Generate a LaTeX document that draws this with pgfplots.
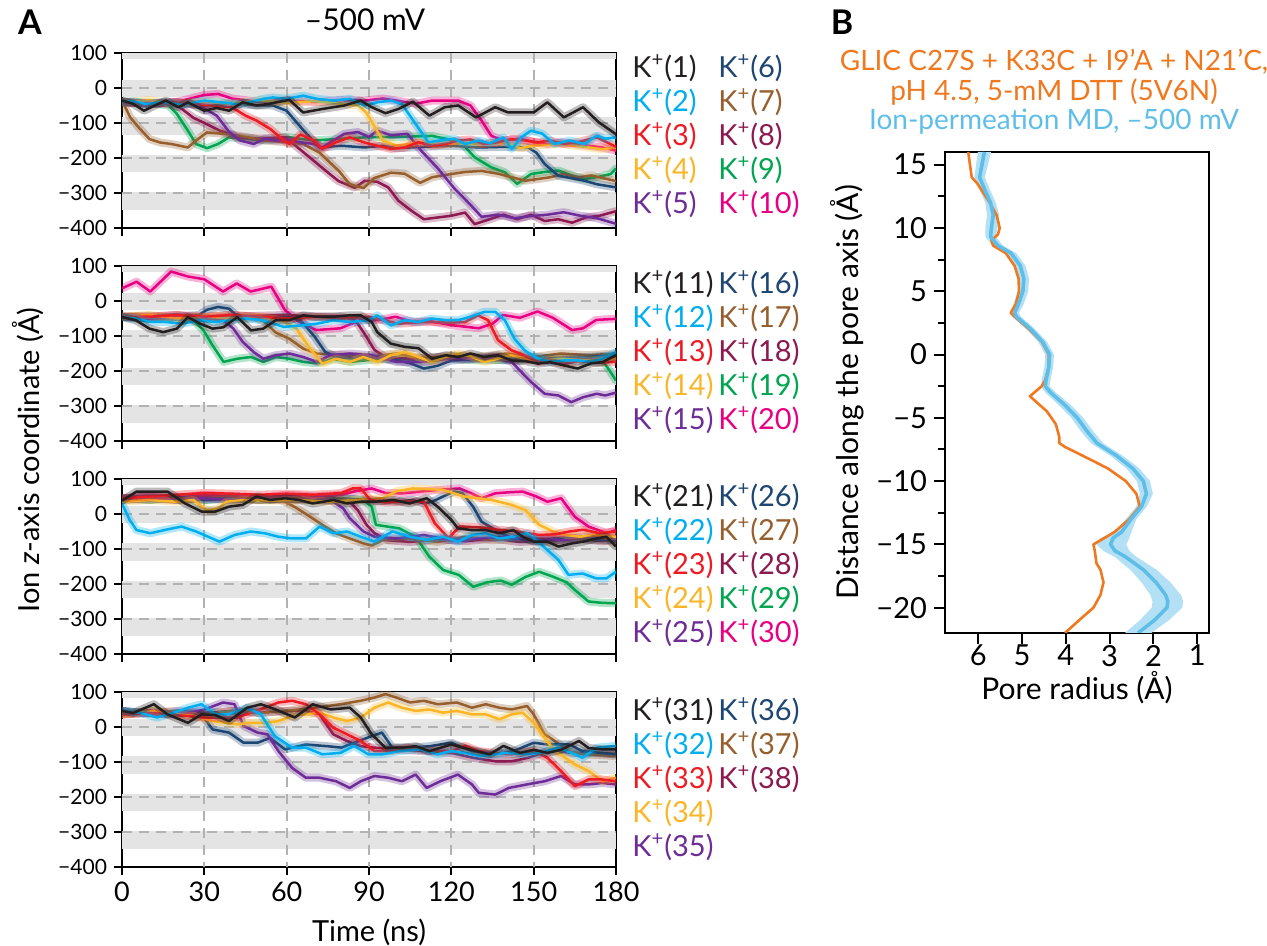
\documentclass[border=0pt]{standalone}
\usepackage{pgfplots}
\pgfplotsset{compat=1.18}
\usepackage{fontspec}
\setmainfont{Lato}
\definecolor{c1}{RGB}{35,31,32}
\definecolor{c2}{RGB}{0,174,239}
\definecolor{c3}{RGB}{237,28,36}
\definecolor{c4}{RGB}{250,182,40}
\definecolor{c5}{RGB}{110,45,150}
\definecolor{c6}{RGB}{30,70,115}
\definecolor{c7}{RGB}{150,95,45}
\definecolor{c8}{RGB}{140,25,80}
\definecolor{c9}{RGB}{0,165,80}
\definecolor{c10}{RGB}{232,0,130}
\definecolor{bandgray}{RGB}{228,228,228}
\definecolor{gridgray}{RGB}{178,178,178}
\definecolor{poreorange}{RGB}{240,120,30}
\definecolor{poreblue}{RGB}{95,190,232}
\definecolor{bandblue}{RGB}{180,224,246}

\newcommand{\traj}[2]{%
  \addplot[#1, line width=4pt, opacity=0.3, line join=round, line cap=round] coordinates {#2};
  \addplot[#1, line width=1.25pt, line join=round] coordinates {#2};
}
\newcommand{\bands}{%
  \fill[bandgray] (axis cs:0,84) rectangle (axis cs:180,100);
  \fill[bandgray] (axis cs:0,-26) rectangle (axis cs:180,24);
  \fill[bandgray] (axis cs:0,-134) rectangle (axis cs:180,-83);
  \fill[bandgray] (axis cs:0,-241) rectangle (axis cs:180,-191);
  \fill[bandgray] (axis cs:0,-349) rectangle (axis cs:180,-298);
  \draw[gridgray, line width=1pt, dash pattern=on 5pt off 3.5pt] (axis cs:0,0) -- (axis cs:180,0);
  \draw[gridgray, line width=1pt, dash pattern=on 5pt off 3.5pt] (axis cs:0,-100) -- (axis cs:180,-100);
  \draw[gridgray, line width=1pt, dash pattern=on 5pt off 3.5pt] (axis cs:0,-200) -- (axis cs:180,-200);
  \draw[gridgray, line width=1pt, dash pattern=on 5pt off 3.5pt] (axis cs:0,-300) -- (axis cs:180,-300);
  \draw[gridgray, line width=1pt, dash pattern=on 5pt off 3.5pt] (axis cs:30,100) -- (axis cs:30,-400);
  \draw[gridgray, line width=1pt, dash pattern=on 5pt off 3.5pt] (axis cs:60,100) -- (axis cs:60,-400);
  \draw[gridgray, line width=1pt, dash pattern=on 5pt off 3.5pt] (axis cs:90,100) -- (axis cs:90,-400);
  \draw[gridgray, line width=1pt, dash pattern=on 5pt off 3.5pt] (axis cs:120,100) -- (axis cs:120,-400);
  \draw[gridgray, line width=1pt, dash pattern=on 5pt off 3.5pt] (axis cs:150,100) -- (axis cs:150,-400);
}
\pgfplotsset{
  trajax/.style={
    scale only axis, width=247pt, height=87.5pt, anchor=south west,
    xmin=0, xmax=180, ymin=-400, ymax=100,
    xtick={0,30,...,180}, ytick={-400,-300,...,100},
    yticklabels={−400,−300,−200,−100,0,100},
    xticklabels={},
    tick pos=left, tick align=outside, major tick length=4pt,
    every tick/.style={black, line width=1pt},
    axis line style={line width=1.1pt},
    y tick label style={font=\fontsize{10.5}{12}\selectfont},
    x tick label style={font=\fontsize{13.5}{15}\selectfont},
  },
}
\newcommand{\leg}[4]{\node[anchor=west, inner sep=0pt, text=#3, font=\fontsize{14.5}{16}\selectfont] at (#1pt,#2pt) {K\textsuperscript{+}(#4)};}

\begin{document}
\begin{tikzpicture}
\path[use as bounding box] (0,0) rectangle (633.5pt,473pt);

% ---------------- Panel 1 ----------------
\begin{axis}[trajax, at={(61pt,359pt)}]
\bands
\traj{c10}{(0,-40) (10,-45) (20,-40) (25,-30) (30,-20) (35,-17) (40,-30) (50,-40) (60,-35) (70,-40) (80,-35) (88.5,-36) (95,-30) (100,-36) (107,-45) (113,-36) (122.5,-36) (127,-50) (131,-93) (134.6,-137) (139,-150) (145,-145) (150,-155) (155,-160) (160,-155) (165,-160) (170,-165) (175,-170) (180,-179)}
\traj{c9}{(0,-40) (10,-42) (17,-50) (20,-74) (24,-122) (27,-160) (31,-172) (35,-160) (39,-141) (45,-145) (52,-150) (60,-140) (70,-150) (80,-145) (88.5,-141) (100,-140) (113,-137) (118,-145) (124,-160) (128.5,-198) (134.6,-227) (139.5,-241) (144,-274) (149,-246) (154,-240) (159,-236) (164,-250) (168.5,-260) (173,-255) (178,-246) (180,-230)}
\traj{c8}{(0,-40) (10,-45) (16,-45) (21,-55) (26,-85) (30,-100) (35.7,-122) (42,-140) (50,-145) (59.5,-141) (64,-170) (68.5,-199) (74,-235) (78.9,-266) (84.8,-285) (88.5,-265) (93,-268) (97,-284) (100.7,-322) (105.5,-351) (110,-375) (115,-370) (120,-365) (125,-356) (128.5,-389) (134,-375) (139,-362) (144,-375) (149,-362) (154,-380) (159,-375) (164,-385) (169,-370) (174,-365) (180,-352)}
\traj{c7}{(0,-36) (3,-84) (6,-112) (10,-146) (14,-156) (18,-160) (24,-170) (27,-150) (31,-127) (38.7,-132) (45,-140) (52,-150) (60,-155) (66,-160) (72,-185) (79,-237) (83,-275) (88,-286) (92,-257) (98,-242) (103,-245) (108.6,-271) (113,-255) (119,-247) (125,-240) (131,-237) (137,-245) (142,-255) (147,-265) (151.6,-260) (156,-255) (161,-246) (166,-255) (171,-250) (180,-266)}
\traj{c6}{(0,-40) (10,-45) (20,-42) (30,-50) (40,-45) (50,-50) (55,-50) (60,-65) (66,-120) (72,-170) (80,-165) (88.5,-170) (95,-165) (100,-172) (110,-168) (120,-165) (130,-170) (140,-168) (148,-170) (151,-185) (154,-217) (159,-251) (164,-258) (168.5,-265) (173,-275) (180,-284)}
\traj{c5}{(0,-40) (10,-45) (20,-40) (28,-50) (34.5,-79) (39,-125) (43,-150) (48,-160) (52,-145) (56,-150) (60,-148) (65,-155) (70,-160) (73,-170) (77,-150) (81,-131) (86,-126) (90,-140) (93,-122) (98,-135) (104,-131) (109,-179) (115,-229) (121,-286) (127,-334) (131,-368) (137,-362) (143,-372) (149,-366) (155,-362) (161,-355) (167,-365) (173,-372) (180,-388)}
\traj{c4}{(0,-40) (10,-35) (20,-45) (30,-38) (40,-45) (50,-35) (60,-42) (70,-38) (80,-45) (86,-50) (89,-70) (92,-110) (95,-150) (100,-165) (105,-160) (110,-155) (115,-162) (120,-158) (130,-160) (140,-155) (145,-172) (150,-165) (160,-160) (170,-170) (175,-175) (180,-170)}
\traj{c3}{(0,-40) (10,-45) (20,-40) (30,-48) (40,-55) (45,-79) (49,-93) (54,-117) (59,-150) (61,-160) (65,-133) (70,-150) (73,-174) (78,-155) (83,-141) (88,-155) (93,-165) (98,-174) (103,-170) (108,-155) (113,-165) (118,-160) (122.5,-150) (127,-147) (132,-160) (137,-155) (142,-146) (147,-150) (151.6,-155) (156,-150) (161,-160) (166,-155) (173,-141) (180,-168)}
\traj{c2}{(0,-40) (4,-38) (9,-46) (15,-40) (22,-48) (30,-36) (36,-41) (42,-46) (47,-40) (51.5,-31) (55,-27) (60,-31) (66,-22) (71,-31) (77,-36) (83,-31) (88.5,-50) (93,-41) (98,-36) (102,-46) (107,-103) (111.6,-155) (116,-150) (121,-145) (125,-160) (130,-150) (134,-158) (139,-141) (142,-174) (145.5,-141) (149,-122) (153,-130) (157.6,-160) (163,-150) (168.5,-160) (173,-136) (176,-145) (180,-141)}
\traj{c1}{(0,-36) (4,-45) (8,-65) (12,-50) (16,-36) (20.6,-55) (24,-41) (30,-65) (34.5,-57) (39,-65) (44,-41) (49,-50) (53,-46) (61,-34) (66,-70) (73,-60) (81,-50) (87,-36) (91,-55) (96,-72) (100.7,-60) (106,-39) (112,-79) (117.6,-55) (122.5,-50) (129,-84) (136,-55) (140.7,-70) (150,-70) (155,-41) (161,-84) (168,-55) (173.7,-98) (180,-132)}
\end{axis}

% ---------------- Panel 2 ----------------
\begin{axis}[trajax, at={(61pt,252.5pt)}]
\bands
\traj{c10}{(0,36) (5.3,55) (10.3,27) (17.9,84) (24,70) (30,62) (36.8,27) (41.8,50) (46.9,27) (54.4,41) (59.4,-26) (64.5,-59) (70.8,-83) (79.6,-78) (87,-54) (93,-55) (99.7,-45) (106,-60) (112,-57) (120,-69) (130,-78) (135,-65) (138.8,-40) (145,-48) (151.4,-30) (157,-48) (164,-83) (168,-78) (172.8,-54) (180,-51)}
\traj{c9}{(0,-45) (10,-50) (20,-45) (26,-55) (29.7,-84) (33,-127) (37,-174) (42,-165) (47,-160) (51.5,-174) (56,-160) (61,-165) (66,-174) (71,-178) (77,-165) (83,-174) (91,-168) (100,-165) (110,-170) (120,-165) (130,-170) (140,-168) (150,-165) (160,-170) (170,-165) (176,-180) (178,-203) (180,-227)}
\traj{c8}{(0,-45) (10,-45) (20,-40) (30,-50) (40,-45) (50,-42) (60,-40) (70,-45) (80,-45) (85,-55) (88,-89) (92,-140) (96,-160) (105,-165) (115,-160) (125,-165) (135,-160) (145,-170) (155,-165) (165,-160) (175,-165) (180,-160)}
\traj{c7}{(0,-45) (10,-42) (20,-50) (30,-45) (40,-40) (48,-45) (52,-60) (56,-90) (61,-108) (66,-136) (71,-150) (80,-155) (90,-160) (100,-150) (110,-165) (120,-155) (130,-160) (140,-150) (150,-160) (160,-150) (170,-155) (180,-150)}
\traj{c6}{(0,-45) (10,-50) (20,-45) (28,-40) (31,-25) (35,-17) (39,-22) (43,-50) (50,-50) (60,-45) (65,-55) (70,-100) (74,-145) (78,-160) (85,-165) (90,-160) (100,-170) (105,-178) (110,-193) (115,-185) (120,-170) (130,-165) (140,-170) (150,-160) (160,-165) (170,-160) (180,-155)}
\traj{c5}{(0,-45) (10,-50) (20,-45) (30,-50) (37,-55) (40.6,-79) (44,-117) (48,-146) (51.5,-165) (56,-155) (61,-150) (66,-160) (71,-174) (76,-155) (83,-150) (91,-155) (100,-174) (110,-174) (120,-165) (130,-165) (137,-160) (142,-174) (145.5,-203) (149,-231) (154,-265) (159,-270) (163.7,-289) (168,-275) (173,-265) (176,-270) (180,-262)}
\traj{c4}{(0,-45) (10,-40) (20,-50) (30,-45) (40,-50) (50,-45) (58,-55) (63.6,-79) (68.5,-136) (73,-179) (78,-165) (83,-174) (88,-160) (93,-174) (98,-155) (103,-146) (108,-160) (113,-174) (118,-160) (122.5,-150) (127,-158) (132,-174) (137,-165) (142,-155) (147,-165) (152,-170) (160,-165) (170,-170) (180,-165)}
\traj{c3}{(0,-45) (10,-45) (20,-40) (30,-45) (40,-40) (50,-45) (60,-50) (70,-45) (80,-50) (90,-45) (100.7,-65) (110,-60) (120,-62) (125,-60) (129.7,-41) (133.4,-55) (137,-112) (142,-141) (146.7,-155) (151.6,-174) (156,-172) (161,-180) (166,-172) (173,-176) (180,-174)}
\traj{c2}{(0,-46) (5,-50) (10,-60) (16,-60) (22,-65) (28,-55) (34,-60) (40,-55) (45,-50) (51,-55) (59,-74) (65,-70) (71,-65) (77,-55) (83,-60) (90,-55) (93,-41) (98,-70) (103,-55) (108,-60) (113,-50) (118,-55) (122.5,-55) (127,-45) (132,-31) (136,-31) (139.5,-55) (143,-108) (146.7,-141) (151.6,-165) (156,-174) (161,-170) (166,-170) (171,-174) (175,-165) (180,-146)}
\traj{c1}{(0,-46) (5,-55) (10,-79) (15,-89) (20,-79) (24,-46) (28.5,-65) (33,-79) (37,-75) (42,-46) (47,-84) (51.5,-79) (56,-55) (61,-55) (66,-41) (71,-45) (77,-45) (83,-41) (87,-41) (91,-60) (93,-89) (98,-122) (103,-131) (108,-135) (113,-165) (118,-155) (122.5,-160) (127,-150) (132,-160) (137,-155) (142,-170) (147,-172) (151.6,-179) (156,-175) (161,-184) (166,-193) (171,-178) (175,-175) (180,-155)}
\end{axis}

% ---------------- Panel 3 ----------------
\begin{axis}[trajax, at={(61pt,146pt)}]
\bands
\traj{c10}{(0,45) (10,50) (20,45) (30,55) (40,50) (50,45) (60,55) (70,50) (80,55) (85,65) (91,73) (96,60) (102,59) (110,65) (117,70) (123,73) (127,60) (131,45) (136,59) (141,62) (146,64) (151,50) (155,35) (160,45) (165,-8) (170,-36) (176.7,-55) (180,-46)}
\traj{c9}{(0,45) (10,40) (20,45) (30,40) (40,45) (50,40) (60,45) (70,40) (80,45) (88,40) (91,21) (92.5,-31) (101,-41) (107,-65) (112,-122) (117,-160) (122.7,-174) (128,-208) (133,-195) (138,-190) (142,-202) (147,-180) (152,-165) (157,-179) (162,-195) (165,-217) (170,-250) (175,-254) (180,-255)}
\traj{c8}{(0,40) (10,45) (20,40) (30,50) (40,45) (50,40) (60,45) (70,40) (78,38) (83,35) (86,10) (89,-30) (92,-55) (97,-75) (105,-80) (115,-72) (125,-78) (135,-70) (145,-80) (155,-75) (165,-70) (175,-78) (180,-72)}
\traj{c7}{(0,40) (10,45) (20,40) (30,45) (40,50) (50,45) (58,40) (63,20) (68,-5) (73,-31) (78,-55) (83,-70) (88,-84) (91,-90) (95,-75) (105,-70) (115,-80) (125,-65) (135,-75) (145,-70) (155,-80) (165,-70) (175,-75) (180,-80)}
\traj{c6}{(0,45) (10,40) (20,50) (30,40) (40,45) (50,40) (60,45) (70,40) (80,45) (90,40) (100,35) (106,40) (110,30) (113,35) (117,50) (121,64) (124,60) (128,20) (131,-22) (136,-45) (142,-70) (150,-75) (160,-68) (170,-72) (180,-75)}
\traj{c5}{(0,45) (10,50) (20,40) (30,45) (40,40) (50,45) (60,40) (70,45) (76,40) (80.6,16) (83,-12) (88,-50) (92,-65) (100,-70) (110,-60) (120,-75) (130,-70) (140,-65) (150,-70) (160,-75) (170,-65) (180,-70)}
\traj{c4}{(0,35) (10,40) (20,35) (26,40) (31,10) (35,15) (38,35) (45,40) (55,38) (65,40) (75,35) (85,40) (95,45) (100,65) (106,73) (117,69) (124.7,50) (134.7,40) (142,26) (147,11) (152,-31) (157,-50) (162,-60) (167,-65) (172,-60) (176,-62) (180,-65)}
\traj{c3}{(0,45) (10,50) (20,55) (30,60) (40,58) (50,55) (60,58) (70,55) (80,60) (84,73) (87,73) (90.5,40) (96,33) (103,35) (110,35) (114,-27) (119,-69) (123,-36) (130,-38) (137,-45) (144,-50) (152,-60) (158,-58) (163,-50) (168,-45) (174,-55) (180,-50)}
\traj{c2}{(0,30) (2.8,-17) (5.3,-46) (10.3,-55) (16,-45) (21.7,-36) (27,-50) (35.5,-79) (41,-60) (46.9,-50) (52,-55) (57,-65) (62,-70) (67,-70) (72,-36) (77,-55) (82,-50) (87,-65) (92,-79) (98.5,-50) (105,-65) (111,-74) (117,-65) (122.4,-79) (127.5,-60) (132.5,-55) (137.5,-70) (142.6,-65) (147.6,-55) (151,-75) (155,-103) (159,-131) (162.7,-174) (167.8,-170) (172.8,-184) (176.5,-184) (180,-165)}
\traj{c1}{(0,38) (5.3,64) (10.3,64) (16.6,64) (23,30) (29,7) (34,7) (39,21) (44,26) (49,50) (54,40) (59.4,45) (64.5,40) (69.5,30) (77,40) (82,30) (87,35) (92,35) (99,40) (104.8,30) (111,45) (115,21) (120,-17) (122.4,-41) (127.5,-46) (132.5,-46) (137.5,-55) (142.6,-46) (146,-65) (150,-79) (155,-79) (159,-93) (164,-84) (168,-79) (172.8,-70) (176.5,-65) (180,-93)}
\end{axis}

% ---------------- Panel 4 ----------------
\begin{axis}[trajax, at={(61pt,39.5pt)}, xticklabels={0,30,60,90,120,150,180}]
\bands
\traj{c8}{(0,36) (10,40) (20,46) (30,40) (40,46) (50,41) (60,46) (67,46) (72,36) (77,-21) (82,-40) (87,-55) (92,-59) (100,-64) (110,-69) (120,-74) (128,-88) (136,-98) (142,-98) (148,-88) (155,-69) (165,-74) (172,-74) (180,-78)}
\traj{c7}{(0,36) (10,46) (20,40) (30,36) (40,46) (50,40) (60,46) (70,55) (79.6,65) (87,75) (92,84) (96,94) (100,84) (105,70) (110,75) (115,65) (122,70) (127.5,55) (132.5,65) (137.5,55) (142,50) (147.6,60) (150,36) (154,-21) (157.7,-40) (162.7,-69) (168,-78) (174,-80) (180,-83)}
\traj{c6}{(0,46) (8,40) (16,36) (24,41) (29,36) (33,-7) (39,-16) (44.3,-45) (49.4,-45) (54,-31) (59.4,-64) (67,-50) (75,-55) (80,-59) (84.6,-45) (91,-26) (94.7,-16) (98.5,-59) (105,-59) (112,-55) (120,-45) (127.5,-69) (135,-78) (142.6,-69) (150,-45) (155,-50) (163,-50) (167.8,-69) (180,-78)}
\traj{c5}{(0,46) (8,40) (16,36) (24,40) (30,50) (36.8,70) (41,65) (44.3,3) (49.4,-16) (53,-21) (57,-69) (62,-117) (67,-145) (72,-145) (78,-155) (83,-174) (87,-155) (92,-140) (97,-145) (102,-155) (107,-136) (111,-174) (116,-155) (122.4,-136) (127.5,-164) (130,-188) (136,-193) (141,-174) (147.6,-164) (154,-155) (160,-140) (165,-164) (170,-164) (175,-160) (180,-164)}
\traj{c4}{(0,36) (11.6,46) (20,36) (26.7,31) (33,17) (42,8) (47,12) (52,12) (57,17) (62,31) (67,36) (72,41) (77,27) (82,17) (87,27) (92,55) (97,70) (102,55) (107,46) (112,50) (117,41) (122,46) (127.5,36) (132.5,36) (137.5,22) (142,36) (146,41) (150,12) (154,-31) (157.7,-69) (161.5,-88) (165,-107) (170,-126) (175,-155) (180,-145)}
\traj{c3}{(0,36) (10,40) (17,36) (30,27) (42,27) (52,55) (57,70) (62,75) (67,65) (72,36) (77,-2) (82,-21) (87,-40) (92,-69) (98,-69) (104,-59) (112,-69) (120,-69) (125,-54) (130,-69) (136,-74) (142,-78) (150,-69) (155,-88) (160,-126) (165,-169) (170,-150) (175,-150) (180,-155)}
\traj{c2}{(0,46) (6.5,41) (12.8,27) (19,41) (24,55) (29,65) (34,36) (39,36) (45.6,55) (50.6,36) (55.7,-26) (62,-59) (67,-59) (73,-78) (79.6,-74) (84.6,-54) (89.7,-78) (95,-78) (101,-69) (108.6,-64) (115,-78) (120,-69) (125,-74) (130,-83) (140,-74) (147.6,-78) (152.6,-74) (159,-59) (165,-78) (167.8,-88) (173,-59) (180,-54)}
\traj{c1}{(0,46) (4,40) (11.6,65) (16.6,36) (24,12) (29,36) (34,34) (39,17) (45.6,55) (50.6,65) (56,50) (63,27) (69.5,65) (76,50) (83,55) (87,27) (91,-21) (96,-59) (102,-59) (107,-55) (112,-69) (120,-50) (127,-65) (134,-78) (139,-54) (145,-74) (150,-65) (155,-74) (160,-65) (166.5,-40) (170,-60) (175,-64) (180,-64)}
\end{axis}

% ---------------- Panel B ----------------
\begin{axis}[scale only axis, width=132pt, height=240.5pt, at={(472.5pt,156.5pt)}, anchor=south west,
  x dir=reverse, xmin=0.73, xmax=6.76, ymin=-22, ymax=16,
  xtick={1,2,3,4,5,6}, xticklabels={1,2,3,4,5,6},
  ytick={-20,-15,-10,-5,0,5,10,15}, yticklabels={−20,−15,−10,−5,0,5,10,15},
  minor ytick={-17.5,-12.5,-7.5,-2.5,2.5,7.5,12.5},
  tick pos=left, tick align=outside, major tick length=5.5pt, minor tick length=3.5pt,
  every tick/.style={black, line width=1pt},
  axis line style={line width=1.1pt},
  tick label style={font=\fontsize{14.5}{15}\selectfont},
  x tick label style={yshift=3pt},
]
\addplot[fill=bandblue, draw=none] coordinates {
(5.71,16) (5.85,14) (5.73,13) (5.60,12) (5.52,11) (5.56,10) (5.60,9.3) (5.43,8.6) (5.13,8) (4.92,7) (4.84,6) (4.86,5) (4.96,4) (5.07,3.3) (5.03,3) (4.70,2) (4.43,1) (4.27,0) (4.29,-1) (4.35,-2) (4.37,-2.5) (4.23,-3) (3.88,-4) (3.60,-5) (3.39,-6) (3.15,-7) (2.70,-8) (2.32,-9) (2.08,-10) (2.01,-11) (2.15,-12) (2.39,-13) (2.50,-14) (2.55,-14.5) (2.62,-15) (2.55,-15.5) (2.38,-16) (1.93,-17) (1.61,-18) (1.37,-19) (1.32,-19.5) (1.34,-20) (1.65,-21) (2.05,-22)
(2.65,-22) (2.31,-21) (2.04,-20) (2.02,-19.5) (2.07,-19) (2.27,-18) (2.53,-17) (2.88,-16) (3.15,-15.5) (3.30,-15) (3.22,-14.5) (2.87,-14) (2.63,-13) (2.39,-12) (2.31,-11) (2.38,-10) (2.62,-9) (2.98,-8) (3.43,-7) (3.67,-6) (3.88,-5) (4.16,-4) (4.47,-3) (4.57,-2.5) (4.55,-2) (4.49,-1) (4.47,0) (4.63,1) (4.90,2) (5.23,3) (5.27,3.3) (5.20,4) (5.10,5) (5.08,6) (5.16,7) (5.37,8) (5.67,8.6) (5.84,9.3) (5.84,10) (5.80,11) (5.84,12) (5.97,13) (6.09,14) (6.01,16)} -- cycle;
\addplot[poreorange, line width=1.3pt, line join=round] coordinates {
(6.23,16) (6.15,14) (6.02,13.5) (5.74,12) (5.58,11) (5.51,10) (5.55,9.5) (5.70,9) (5.66,8.6) (5.37,8) (5.17,7) (5.08,6) (5.07,5) (5.14,4) (5.26,3.3) (5.17,3) (4.84,2) (4.55,1) (4.39,0) (4.39,-1) (4.47,-2) (4.55,-2.5) (4.72,-3) (4.82,-3.3) (4.69,-3.7) (4.43,-4.5) (4.23,-5.5) (4.15,-6.5) (4.15,-7) (4.02,-7.3) (3.61,-8) (3.04,-9) (2.63,-10) (2.39,-11) (2.31,-12) (2.55,-13) (2.88,-14) (3.12,-14.5) (3.37,-15) (3.34,-15.5) (3.30,-16.5) (3.21,-17) (3.14,-18) (3.21,-19) (3.37,-20) (3.70,-21) (4.02,-22)};
\addplot[poreblue, line width=1.8pt, line join=round] coordinates {
(5.86,16) (5.97,14) (5.85,13) (5.72,12) (5.66,11) (5.70,10) (5.72,9.3) (5.55,8.6) (5.25,8) (5.04,7) (4.96,6) (4.98,5) (5.08,4) (5.17,3.3) (5.13,3) (4.80,2) (4.53,1) (4.37,0) (4.39,-1) (4.45,-2) (4.47,-2.5) (4.35,-3) (4.02,-4) (3.74,-5) (3.53,-6) (3.29,-7) (2.84,-8) (2.47,-9) (2.23,-10) (2.16,-11) (2.27,-12) (2.51,-13) (2.72,-14) (2.92,-14.5) (2.98,-15) (2.88,-15.5) (2.63,-16) (2.23,-17) (1.94,-18) (1.72,-19) (1.67,-19.5) (1.69,-20) (1.98,-21) (2.35,-22)};
\end{axis}

% ---------------- Texts ----------------
\node[font=\bfseries\fontsize{17}{18}\selectfont, inner sep=0pt] at (15pt,462pt) {A};
\node[font=\bfseries\fontsize{17}{18}\selectfont, inner sep=0pt] at (421pt,462pt) {B};
\node[font=\fontsize{15}{16}\selectfont, inner sep=0pt] at (182.5pt,463pt) {–500 mV};
\node[font=\fontsize{14.5}{16}\selectfont, inner sep=0pt, rotate=90] at (14pt,243pt) {Ion \textit{z}-axis coordinate (Å)};
\node[font=\fontsize{14.5}{16}\selectfont, inner sep=0pt] at (184.5pt,7pt) {Time (ns)};
\node[font=\fontsize{14}{15}\selectfont, inner sep=0pt, text=poreorange] at (527pt,442pt) {GLIC C27S + K33C + I9’A + N21’C,};
\node[font=\fontsize{14}{15}\selectfont, inner sep=0pt, text=poreorange] at (527pt,427pt) {pH 4.5, 5-mM DTT (5V6N)};
\node[font=\fontsize{14}{15}\selectfont, inner sep=0pt, text=poreblue] at (527pt,412pt) {Ion-permeation MD, –500 mV};
\node[font=\fontsize{15}{16}\selectfont, inner sep=0pt, rotate=90] at (423.5pt,277pt) {Distance along the pore axis (Å)};
\node[font=\fontsize{15}{16}\selectfont, inner sep=0pt] at (538.5pt,129pt) {Pore radius (Å)};

% legends
\leg{316}{439}{c1}{1}\leg{316}{422}{c2}{2}\leg{316}{405}{c3}{3}\leg{316}{388}{c4}{4}\leg{316}{371}{c5}{5}
\leg{359}{439}{c6}{6}\leg{359}{422}{c7}{7}\leg{359}{405}{c8}{8}\leg{359}{388}{c9}{9}\leg{359}{371}{c10}{10}
\leg{316}{331}{c1}{11}\leg{316}{314}{c2}{12}\leg{316}{297}{c3}{13}\leg{316}{280}{c4}{14}\leg{316}{263}{c5}{15}
\leg{359}{331}{c6}{16}\leg{359}{314}{c7}{17}\leg{359}{297}{c8}{18}\leg{359}{280}{c9}{19}\leg{359}{263}{c10}{20}
\leg{316}{224.5}{c1}{21}\leg{316}{207.5}{c2}{22}\leg{316}{190.5}{c3}{23}\leg{316}{173.5}{c4}{24}\leg{316}{156.5}{c5}{25}
\leg{359}{224.5}{c6}{26}\leg{359}{207.5}{c7}{27}\leg{359}{190.5}{c8}{28}\leg{359}{173.5}{c9}{29}\leg{359}{156.5}{c10}{30}
\leg{316}{117.5}{c1}{31}\leg{316}{100.5}{c2}{32}\leg{316}{83.5}{c3}{33}\leg{316}{66.5}{c4}{34}\leg{316}{49.5}{c5}{35}
\leg{359}{117.5}{c6}{36}\leg{359}{100.5}{c7}{37}\leg{359}{83.5}{c8}{38}
\end{tikzpicture}
\end{document}
